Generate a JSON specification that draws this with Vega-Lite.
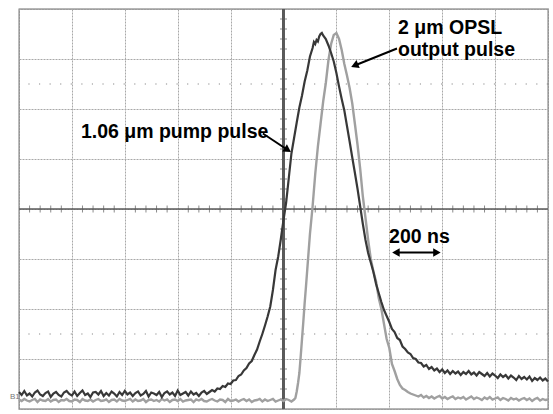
{
"$schema":"https://vega.github.io/schema/vega-lite/v6.json",
"width":529,"height":400,
"autosize":{"type":"none"},
"padding":{"left":19,"top":9,"right":5,"bottom":5},
"background":"white",
"config":{"view":{"stroke":"#6e6e6e","strokeWidth":1.3},"font":"Liberation Sans"},
"datasets":{
"pump":[{"t":0,"v":0.34},{"t":10,"v":0.28},{"t":20,"v":0.36},{"t":30,"v":0.27},{"t":40,"v":0.31},{"t":50,"v":0.25},{"t":60,"v":0.33},{"t":70,"v":0.37},{"t":80,"v":0.29},{"t":90,"v":0.26},{"t":100,"v":0.32},{"t":110,"v":0.35},{"t":120,"v":0.24},{"t":130,"v":0.31},{"t":140,"v":0.34},{"t":150,"v":0.28},{"t":160,"v":0.25},{"t":170,"v":0.33},{"t":180,"v":0.36},{"t":190,"v":0.30},{"t":200,"v":0.27},{"t":210,"v":0.35},{"t":220,"v":0.26},{"t":230,"v":0.32},{"t":240,"v":0.37},{"t":250,"v":0.28},{"t":260,"v":0.31},{"t":270,"v":0.24},{"t":280,"v":0.33},{"t":290,"v":0.34},{"t":300,"v":0.29},{"t":310,"v":0.36},{"t":320,"v":0.26},{"t":330,"v":0.32},{"t":340,"v":0.27},{"t":350,"v":0.35},{"t":360,"v":0.31},{"t":370,"v":0.25},{"t":380,"v":0.34},{"t":390,"v":0.28},{"t":400,"v":0.36},{"t":410,"v":0.29},{"t":420,"v":0.33},{"t":430,"v":0.26},{"t":440,"v":0.32},{"t":450,"v":0.35},{"t":460,"v":0.27},{"t":470,"v":0.30},{"t":480,"v":0.36},{"t":490,"v":0.25},{"t":500,"v":0.33},{"t":510,"v":0.31},{"t":520,"v":0.28},{"t":530,"v":0.34},{"t":540,"v":0.24},{"t":550,"v":0.32},{"t":560,"v":0.35},{"t":570,"v":0.29},{"t":580,"v":0.33},{"t":590,"v":0.26},{"t":600,"v":0.37},{"t":610,"v":0.28},{"t":620,"v":0.31},{"t":630,"v":0.34},{"t":640,"v":0.27},{"t":650,"v":0.35},{"t":660,"v":0.29},{"t":670,"v":0.32},{"t":680,"v":0.26},{"t":690,"v":0.33},{"t":700,"v":0.36},{"t":710,"v":0.30},{"t":720,"v":0.34},{"t":730,"v":0.38},{"t":740,"v":0.35},{"t":750,"v":0.41},{"t":760,"v":0.40},{"t":770,"v":0.46},{"t":780,"v":0.44},{"t":790,"v":0.51},{"t":800,"v":0.50},{"t":810,"v":0.57},{"t":820,"v":0.58},{"t":830,"v":0.66},{"t":840,"v":0.69},{"t":850,"v":0.77},{"t":860,"v":0.82},{"t":870,"v":0.91},{"t":880,"v":0.96},{"t":890,"v":1.08},{"t":900,"v":1.19},{"t":910,"v":1.35},{"t":920,"v":1.50},{"t":930,"v":1.67},{"t":940,"v":1.85},{"t":950,"v":2.05},{"t":960,"v":2.38},{"t":970,"v":2.78},{"t":980,"v":3.05},{"t":990,"v":3.40},{"t":1000,"v":3.78},{"t":1010,"v":4.13},{"t":1020,"v":4.62},{"t":1030,"v":5.11},{"t":1040,"v":5.42},{"t":1050,"v":5.73},{"t":1060,"v":6.03},{"t":1070,"v":6.27},{"t":1080,"v":6.55},{"t":1090,"v":6.77},{"t":1100,"v":7.05},{"t":1110,"v":7.22},{"t":1115,"v":7.34},{"t":1120,"v":7.30},{"t":1125,"v":7.38},{"t":1130,"v":7.35},{"t":1135,"v":7.45},{"t":1140,"v":7.50},{"t":1145,"v":7.52},{"t":1150,"v":7.47},{"t":1160,"v":7.40},{"t":1170,"v":7.27},{"t":1180,"v":7.12},{"t":1190,"v":6.95},{"t":1200,"v":6.72},{"t":1210,"v":6.45},{"t":1220,"v":6.20},{"t":1230,"v":5.97},{"t":1240,"v":5.66},{"t":1250,"v":5.35},{"t":1260,"v":5.03},{"t":1270,"v":4.72},{"t":1280,"v":4.40},{"t":1290,"v":4.05},{"t":1300,"v":3.70},{"t":1310,"v":3.38},{"t":1320,"v":3.12},{"t":1330,"v":2.93},{"t":1340,"v":2.74},{"t":1350,"v":2.50},{"t":1360,"v":2.32},{"t":1370,"v":2.14},{"t":1380,"v":1.98},{"t":1390,"v":1.86},{"t":1400,"v":1.74},{"t":1410,"v":1.60},{"t":1420,"v":1.54},{"t":1430,"v":1.42},{"t":1440,"v":1.38},{"t":1450,"v":1.25},{"t":1460,"v":1.20},{"t":1470,"v":1.13},{"t":1480,"v":1.10},{"t":1490,"v":1.02},{"t":1500,"v":1.00},{"t":1510,"v":0.93},{"t":1520,"v":0.92},{"t":1530,"v":0.85},{"t":1540,"v":0.88},{"t":1550,"v":0.80},{"t":1560,"v":0.84},{"t":1570,"v":0.77},{"t":1580,"v":0.81},{"t":1590,"v":0.74},{"t":1600,"v":0.79},{"t":1610,"v":0.72},{"t":1620,"v":0.77},{"t":1630,"v":0.70},{"t":1640,"v":0.76},{"t":1650,"v":0.71},{"t":1660,"v":0.75},{"t":1670,"v":0.68},{"t":1680,"v":0.74},{"t":1690,"v":0.70},{"t":1700,"v":0.76},{"t":1710,"v":0.69},{"t":1720,"v":0.73},{"t":1730,"v":0.67},{"t":1740,"v":0.74},{"t":1750,"v":0.70},{"t":1760,"v":0.66},{"t":1770,"v":0.72},{"t":1780,"v":0.65},{"t":1790,"v":0.71},{"t":1800,"v":0.67},{"t":1810,"v":0.62},{"t":1820,"v":0.69},{"t":1830,"v":0.64},{"t":1840,"v":0.68},{"t":1850,"v":0.61},{"t":1860,"v":0.67},{"t":1870,"v":0.63},{"t":1880,"v":0.58},{"t":1890,"v":0.66},{"t":1900,"v":0.60},{"t":1910,"v":0.64},{"t":1920,"v":0.59},{"t":1930,"v":0.65},{"t":1940,"v":0.56},{"t":1950,"v":0.62},{"t":1960,"v":0.58},{"t":1970,"v":0.63},{"t":1980,"v":0.57},{"t":1990,"v":0.61},{"t":2000,"v":0.55}],
"out":[{"t":0,"v":0.19},{"t":10,"v":0.16},{"t":20,"v":0.20},{"t":30,"v":0.17},{"t":40,"v":0.15},{"t":50,"v":0.18},{"t":60,"v":0.20},{"t":70,"v":0.14},{"t":80,"v":0.19},{"t":90,"v":0.17},{"t":100,"v":0.16},{"t":110,"v":0.20},{"t":120,"v":0.15},{"t":130,"v":0.18},{"t":140,"v":0.19},{"t":150,"v":0.14},{"t":160,"v":0.18},{"t":170,"v":0.17},{"t":180,"v":0.20},{"t":190,"v":0.16},{"t":200,"v":0.15},{"t":210,"v":0.19},{"t":220,"v":0.18},{"t":230,"v":0.14},{"t":240,"v":0.20},{"t":250,"v":0.17},{"t":260,"v":0.16},{"t":270,"v":0.19},{"t":280,"v":0.15},{"t":290,"v":0.18},{"t":300,"v":0.20},{"t":310,"v":0.16},{"t":320,"v":0.17},{"t":330,"v":0.19},{"t":340,"v":0.14},{"t":350,"v":0.18},{"t":360,"v":0.19},{"t":370,"v":0.15},{"t":380,"v":0.20},{"t":390,"v":0.17},{"t":400,"v":0.16},{"t":410,"v":0.18},{"t":420,"v":0.20},{"t":430,"v":0.15},{"t":440,"v":0.19},{"t":450,"v":0.16},{"t":460,"v":0.17},{"t":470,"v":0.20},{"t":480,"v":0.14},{"t":490,"v":0.18},{"t":500,"v":0.19},{"t":510,"v":0.16},{"t":520,"v":0.18},{"t":530,"v":0.15},{"t":540,"v":0.20},{"t":550,"v":0.17},{"t":560,"v":0.19},{"t":570,"v":0.14},{"t":580,"v":0.18},{"t":590,"v":0.19},{"t":600,"v":0.16},{"t":610,"v":0.20},{"t":620,"v":0.15},{"t":630,"v":0.17},{"t":640,"v":0.18},{"t":650,"v":0.19},{"t":660,"v":0.14},{"t":670,"v":0.19},{"t":680,"v":0.17},{"t":690,"v":0.20},{"t":700,"v":0.16},{"t":710,"v":0.15},{"t":720,"v":0.18},{"t":730,"v":0.20},{"t":740,"v":0.17},{"t":750,"v":0.15},{"t":760,"v":0.19},{"t":770,"v":0.18},{"t":780,"v":0.14},{"t":790,"v":0.20},{"t":800,"v":0.16},{"t":810,"v":0.17},{"t":820,"v":0.19},{"t":830,"v":0.15},{"t":840,"v":0.18},{"t":850,"v":0.20},{"t":860,"v":0.16},{"t":870,"v":0.19},{"t":880,"v":0.14},{"t":890,"v":0.17},{"t":900,"v":0.18},{"t":910,"v":0.20},{"t":920,"v":0.15},{"t":930,"v":0.19},{"t":940,"v":0.16},{"t":950,"v":0.18},{"t":960,"v":0.20},{"t":970,"v":0.15},{"t":980,"v":0.17},{"t":990,"v":0.19},{"t":1000,"v":0.16},{"t":1010,"v":0.20},{"t":1020,"v":0.18},{"t":1030,"v":0.15},{"t":1040,"v":0.19},{"t":1045,"v":0.22},{"t":1050,"v":0.35},{"t":1055,"v":0.52},{"t":1060,"v":0.72},{"t":1065,"v":1.05},{"t":1070,"v":1.40},{"t":1075,"v":1.75},{"t":1080,"v":2.12},{"t":1085,"v":2.45},{"t":1090,"v":2.80},{"t":1095,"v":3.15},{"t":1100,"v":3.50},{"t":1110,"v":4.05},{"t":1120,"v":4.70},{"t":1130,"v":5.25},{"t":1140,"v":5.70},{"t":1150,"v":6.15},{"t":1160,"v":6.52},{"t":1170,"v":6.98},{"t":1180,"v":7.30},{"t":1190,"v":7.48},{"t":1200,"v":7.52},{"t":1210,"v":7.40},{"t":1220,"v":7.18},{"t":1230,"v":6.90},{"t":1240,"v":6.67},{"t":1250,"v":6.42},{"t":1260,"v":6.11},{"t":1270,"v":5.70},{"t":1280,"v":5.28},{"t":1290,"v":4.80},{"t":1300,"v":4.25},{"t":1310,"v":3.82},{"t":1320,"v":3.38},{"t":1330,"v":3.00},{"t":1340,"v":2.75},{"t":1350,"v":2.55},{"t":1360,"v":2.22},{"t":1370,"v":2.00},{"t":1380,"v":1.70},{"t":1390,"v":1.40},{"t":1400,"v":1.22},{"t":1410,"v":0.90},{"t":1420,"v":0.76},{"t":1430,"v":0.60},{"t":1440,"v":0.48},{"t":1450,"v":0.41},{"t":1460,"v":0.38},{"t":1470,"v":0.34},{"t":1480,"v":0.31},{"t":1490,"v":0.29},{"t":1500,"v":0.27},{"t":1510,"v":0.25},{"t":1520,"v":0.28},{"t":1530,"v":0.23},{"t":1540,"v":0.26},{"t":1550,"v":0.22},{"t":1560,"v":0.25},{"t":1570,"v":0.21},{"t":1580,"v":0.24},{"t":1590,"v":0.26},{"t":1600,"v":0.21},{"t":1610,"v":0.24},{"t":1620,"v":0.20},{"t":1630,"v":0.23},{"t":1640,"v":0.25},{"t":1650,"v":0.20},{"t":1660,"v":0.23},{"t":1670,"v":0.21},{"t":1680,"v":0.24},{"t":1690,"v":0.19},{"t":1700,"v":0.22},{"t":1710,"v":0.25},{"t":1720,"v":0.20},{"t":1730,"v":0.23},{"t":1740,"v":0.21},{"t":1750,"v":0.18},{"t":1760,"v":0.23},{"t":1770,"v":0.20},{"t":1780,"v":0.24},{"t":1790,"v":0.19},{"t":1800,"v":0.21},{"t":1810,"v":0.23},{"t":1820,"v":0.18},{"t":1830,"v":0.22},{"t":1840,"v":0.20},{"t":1850,"v":0.17},{"t":1860,"v":0.22},{"t":1870,"v":0.19},{"t":1880,"v":0.21},{"t":1890,"v":0.17},{"t":1900,"v":0.20},{"t":1910,"v":0.22},{"t":1920,"v":0.18},{"t":1930,"v":0.21},{"t":1940,"v":0.16},{"t":1950,"v":0.20},{"t":1960,"v":0.22},{"t":1970,"v":0.17},{"t":1980,"v":0.20},{"t":1990,"v":0.18},{"t":2000,"v":0.19}],
"hticks":[{"t":40},{"t":80},{"t":120},{"t":160},{"t":240},{"t":280},{"t":320},{"t":360},{"t":440},{"t":480},{"t":520},{"t":560},{"t":640},{"t":680},{"t":720},{"t":760},{"t":840},{"t":880},{"t":920},{"t":960},{"t":1040},{"t":1080},{"t":1120},{"t":1160},{"t":1240},{"t":1280},{"t":1320},{"t":1360},{"t":1440},{"t":1480},{"t":1520},{"t":1560},{"t":1640},{"t":1680},{"t":1720},{"t":1760},{"t":1840},{"t":1880},{"t":1920},{"t":1960}],
"vticks":[{"v":0.2},{"v":0.4},{"v":0.6},{"v":0.8},{"v":1.2},{"v":1.4},{"v":1.6},{"v":1.8},{"v":2.2},{"v":2.4},{"v":2.6},{"v":2.8},{"v":3.2},{"v":3.4},{"v":3.6},{"v":3.8},{"v":4.2},{"v":4.4},{"v":4.6},{"v":4.8},{"v":5.2},{"v":5.4},{"v":5.6},{"v":5.8},{"v":6.2},{"v":6.4},{"v":6.6},{"v":6.8},{"v":7.2},{"v":7.4},{"v":7.6},{"v":7.8}],
"dots":[{"v":1.5},{"v":6.5}],
"labels":[{"t":234,"v":5.43,"label":"1.06 μm pump pulse"},{"t":1433,"v":7.50,"label":"2 μm OPSL"},{"t":1433,"v":7.07,"label":"output pulse"},{"t":1399,"v":3.33,"label":"200 ns"}],
"marker":[{"t":-34,"v":0.24,"label":"B1"}],
"arrows":[{"t":922,"v":5.51,"t2":1016,"v2":5.18},{"t":1429,"v":7.21,"t2":1269,"v2":6.87},{"t":1425,"v":3.13,"t2":1580,"v2":3.13}],
"heads":[{"t":1016,"v":5.18,"dir":33},{"t":1269,"v":6.87,"dir":158},{"t":1425,"v":3.13,"dir":180},{"t":1580,"v":3.13,"dir":0}]
},
"layer":[
{"data":{"name":"dots"},"mark":{"type":"rule","color":"#8a8a8a","strokeWidth":1.2,"strokeDash":[1.2,9.38]},
 "encoding":{"y":{"field":"v","type":"quantitative","scale":{"domain":[0,8],"nice":false,"zero":false},"axis":{"values":[0,1,2,3,4,5,6,7,8],"grid":true,"gridColor":"#a8a8a8","gridWidth":1,"gridDash":[2,1],"labels":false,"ticks":false,"domain":false,"title":null}}}},
{"data":{"name":"out"},"mark":{"type":"rule","color":"#5a5a5a","strokeWidth":1.2},
 "encoding":{"x":{"datum":1000,"type":"quantitative","scale":{"domain":[0,2000],"nice":false,"zero":false},"axis":{"values":[0,200,400,600,800,1000,1200,1400,1600,1800,2000],"grid":true,"gridColor":"#a8a8a8","gridWidth":1,"gridDash":[2,1],"labels":false,"ticks":false,"domain":false,"title":null}}}},
{"data":{"name":"dots"},"mark":{"type":"rule","color":"#5a5a5a","strokeWidth":1.2},"encoding":{"y":{"datum":4,"type":"quantitative"}}},
{"data":{"name":"hticks"},"mark":{"type":"tick","orient":"vertical","color":"#5a5a5a","size":7,"thickness":1},
 "encoding":{"x":{"field":"t","type":"quantitative"},"y":{"datum":4,"type":"quantitative"}}},
{"data":{"name":"vticks"},"mark":{"type":"tick","orient":"horizontal","color":"#5a5a5a","size":7,"thickness":1},
 "encoding":{"y":{"field":"v","type":"quantitative"},"x":{"datum":1000,"type":"quantitative"}}},
{"data":{"name":"out"},"mark":{"type":"line","color":"#a0a0a0","strokeWidth":2.4},
 "encoding":{"x":{"field":"t","type":"quantitative"},"y":{"field":"v","type":"quantitative"}}},
{"data":{"name":"pump"},"mark":{"type":"line","color":"#383838","strokeWidth":2.2},
 "encoding":{"x":{"field":"t","type":"quantitative"},"y":{"field":"v","type":"quantitative"}}},
{"data":{"name":"arrows"},"mark":{"type":"rule","color":"black","strokeWidth":2},
 "encoding":{"x":{"field":"t","type":"quantitative"},"y":{"field":"v","type":"quantitative"},"x2":{"field":"t2"},"y2":{"field":"v2"}}},
{"data":{"name":"heads"},"mark":{"type":"point","shape":"triangle-right","filled":true,"color":"black","size":75,"opacity":1},
 "encoding":{"x":{"field":"t","type":"quantitative"},"y":{"field":"v","type":"quantitative"},"angle":{"field":"dir","type":"quantitative","scale":null}}},
{"data":{"name":"labels"},"mark":{"type":"text","align":"left","baseline":"alphabetic","fontSize":19.5,"fontWeight":"bold","font":"Liberation Sans","color":"black"},
 "encoding":{"x":{"field":"t","type":"quantitative"},"y":{"field":"v","type":"quantitative"},"text":{"field":"label"}}},
{"data":{"name":"marker"},"mark":{"type":"text","align":"left","baseline":"middle","fontSize":8,"color":"#777777"},
 "encoding":{"x":{"field":"t","type":"quantitative"},"y":{"field":"v","type":"quantitative"},"text":{"field":"label"}}}
]
}
